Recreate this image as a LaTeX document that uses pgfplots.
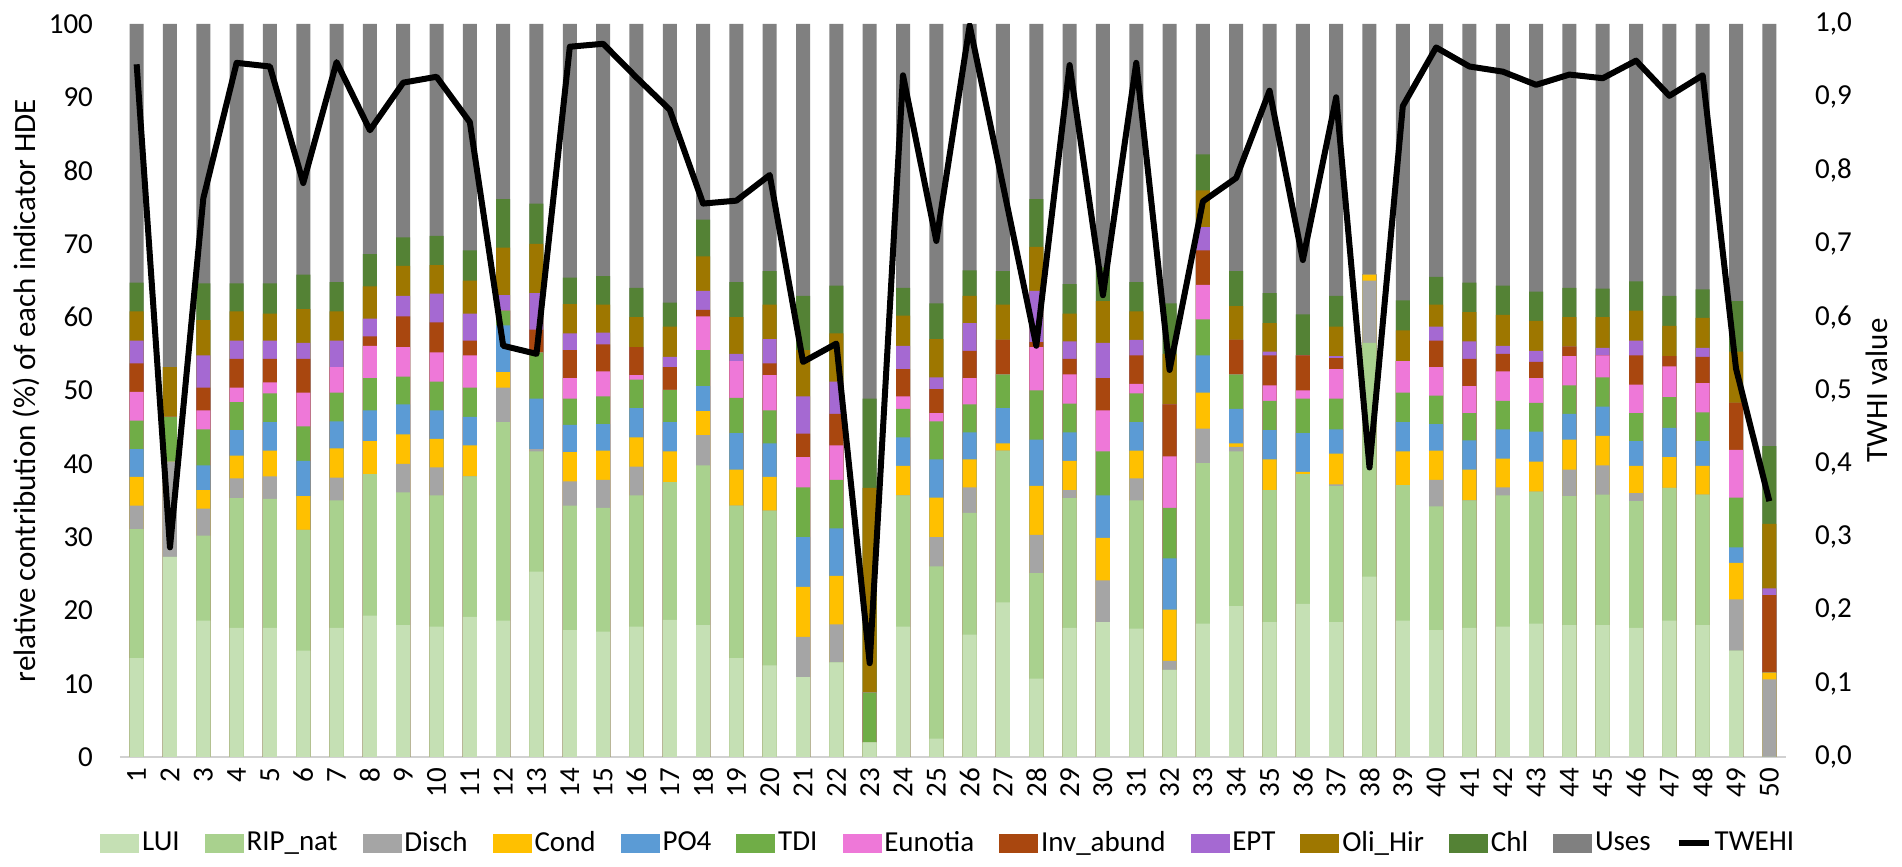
\documentclass[border=0pt]{standalone}
\usepackage{pgfplots}
\usepackage{pgfplotstable}
\pgfplotsset{compat=1.18}
\usepackage{fontspec}
\setmainfont{Carlito}
\definecolor{luiC}{HTML}{C5E0B4}
\definecolor{ripC}{HTML}{A9D18E}
\definecolor{dischC}{HTML}{A5A5A5}
\definecolor{condC}{HTML}{FFC000}
\definecolor{po4C}{HTML}{5B9BD5}
\definecolor{tdiC}{HTML}{70AD47}
\definecolor{eunC}{HTML}{EE78D8}
\definecolor{invC}{HTML}{A9470F}
\definecolor{eptC}{HTML}{A569D2}
\definecolor{oliC}{HTML}{9E7700}
\definecolor{chlC}{HTML}{548235}
\definecolor{usesC}{HTML}{808080}
% cumulative tops of the stacked segments
\pgfplotstableread{
x lui rip disch cond po4 tdi eun inv ept oli chl uses
1 13.5 31.1 34.3 38.2 42.0 45.9 49.8 53.7 56.8 60.8 64.7 100
2 27.3 27.3 40.3 40.3 40.3 46.4 46.4 46.4 46.4 53.2 53.2 100
3 18.6 30.2 33.9 36.4 39.8 44.7 47.3 50.4 54.8 59.6 64.6 100
4 17.6 35.3 38.0 41.1 44.6 48.4 50.4 54.3 56.8 60.8 64.6 100
5 17.6 35.2 38.3 41.8 45.7 49.6 51.1 54.3 56.8 60.5 64.6 100
6 14.5 31.0 31.0 35.6 40.4 45.1 49.7 54.3 56.5 61.1 65.8 100
7 17.6 35.0 38.1 42.1 45.8 49.7 53.2 53.2 56.8 60.8 64.8 100
8 19.3 38.6 38.6 43.1 47.3 51.7 56.1 57.4 59.8 64.2 68.6 100
9 18.0 36.1 40.0 44.0 48.1 51.9 55.9 60.1 62.9 67.0 70.9 100
10 17.8 35.7 39.5 43.4 47.3 51.2 55.2 59.3 63.2 67.1 71.1 100
11 19.1 38.3 38.3 42.5 46.4 50.4 54.8 56.8 60.5 65.0 69.1 100
12 18.6 45.7 50.4 52.5 58.9 60.9 60.9 60.9 63.0 69.5 76.1 100
13 25.3 41.7 42.0 42.0 48.9 55.2 55.2 58.3 63.3 70.0 75.5 100
14 17.3 34.3 37.6 41.6 45.3 48.9 51.7 55.5 57.8 61.8 65.4 100
15 17.1 34.0 37.8 41.8 45.4 49.2 52.6 56.3 57.9 61.7 65.6 100
16 17.8 35.7 39.6 43.6 47.6 51.5 52.1 55.9 55.9 60.0 64.0 100
17 18.7 37.5 37.5 41.7 45.7 50.1 50.1 53.2 54.6 58.7 62.0 100
18 18.0 39.8 43.9 47.2 50.6 55.5 60.1 61.0 63.6 68.3 73.3 100
19 13.5 34.3 34.3 39.2 44.2 49.0 54.0 54.0 55.0 60.0 64.8 100
20 12.5 33.6 33.6 38.2 42.8 47.3 52.1 53.7 57.0 61.7 66.3 100
21 10.9 10.9 16.4 23.2 30.0 36.8 40.9 44.1 49.2 55.5 62.9 100
22 12.9 12.9 18.1 24.7 31.2 37.8 42.5 46.8 51.2 57.8 64.3 100
23 2.0 2.0 2.0 2.0 2.0 8.8 8.8 8.8 8.8 36.7 48.9 100
24 17.8 35.7 35.7 39.7 43.6 47.5 49.2 52.9 56.1 60.2 64.0 100
25 2.5 26.0 30.0 35.4 40.6 45.8 46.9 50.2 51.8 57.0 61.9 100
26 16.7 33.3 36.8 40.6 44.3 48.1 51.7 55.4 59.2 62.9 66.4 100
27 21.1 41.8 41.8 42.8 47.6 52.2 52.2 56.9 56.9 61.7 66.3 100
28 10.7 25.1 30.3 37.0 43.3 50.0 55.9 56.6 63.6 69.6 76.1 100
29 17.6 35.3 36.4 40.4 44.3 48.2 52.2 54.3 56.7 60.5 64.5 100
30 18.4 18.4 24.1 29.9 35.7 41.7 47.3 51.7 56.5 62.2 66.8 100
31 17.5 35.0 38.0 41.8 45.7 49.6 50.9 54.8 56.9 60.8 64.8 100
32 11.9 11.9 13.1 20.1 27.1 34.0 41.0 48.1 48.1 55.0 61.9 100
33 18.2 40.1 44.8 49.7 54.8 59.7 64.4 69.1 72.3 77.3 82.2 100
34 20.6 41.7 42.3 42.8 47.5 52.2 52.2 56.9 56.9 61.5 66.3 100
35 18.4 36.4 36.4 40.6 44.6 48.6 50.7 54.8 55.3 59.2 63.3 100
36 20.9 38.6 38.6 38.9 44.2 48.9 50.0 54.8 54.8 54.8 60.4 100
37 18.4 37.0 37.2 41.4 44.7 48.9 52.9 54.4 54.7 58.7 62.9 100
38 24.6 56.5 65.0 65.8 65.8 65.8 65.8 65.8 65.8 65.8 65.8 100
39 18.6 37.1 37.1 41.7 45.7 49.7 54.0 54.0 54.0 58.2 62.3 100
40 17.3 34.2 37.8 41.8 45.4 49.3 53.2 56.8 58.7 61.7 65.5 100
41 17.6 35.0 35.0 39.2 43.2 46.9 50.6 54.3 56.7 60.7 64.7 100
42 17.8 35.7 36.8 40.7 44.7 48.6 52.6 55.0 56.1 60.3 64.3 100
43 18.2 36.2 36.2 40.3 44.4 48.3 51.7 53.9 55.4 59.5 63.5 100
44 18.0 35.6 39.2 43.3 46.8 50.7 54.7 56.0 56.0 60.0 64.0 100
45 18.0 35.8 39.8 43.8 47.8 51.8 54.8 54.8 55.8 60.0 63.9 100
46 17.6 34.9 36.0 39.7 43.1 46.9 50.8 54.8 56.8 60.9 64.9 100
47 18.6 36.7 36.7 40.9 44.9 49.1 53.3 54.7 54.7 58.8 62.9 100
48 18.0 35.8 35.8 39.7 43.1 47.0 51.0 54.6 55.8 59.9 63.8 100
49 14.5 14.5 21.5 26.5 28.6 35.4 41.9 48.3 48.3 55.3 62.2 100
50 0.0 0.0 10.6 11.5 11.5 11.5 11.5 22.1 23.0 31.8 42.4 100
}\datatab
\pgfplotstableread{
x twhi
1 0.945
2 0.286
3 0.762
4 0.947
5 0.942
6 0.783
7 0.948
8 0.855
9 0.920
10 0.928
11 0.866
12 0.561
13 0.550
14 0.969
15 0.973
16 0.927
17 0.883
18 0.755
19 0.759
20 0.794
21 0.539
22 0.564
23 0.128
24 0.930
25 0.704
26 0.998
27 0.780
28 0.561
29 0.944
30 0.630
31 0.947
32 0.528
33 0.758
34 0.790
35 0.909
36 0.678
37 0.900
38 0.395
39 0.888
40 0.968
41 0.942
42 0.935
43 0.917
44 0.931
45 0.926
46 0.950
47 0.902
48 0.930
49 0.530
50 0.349
}\twtab
\newcommand{\tickfont}{\fontsize{14.5}{16}\selectfont}
\newcommand{\titlefont}{\fontsize{15.5}{17}\selectfont}
\pgfplotsset{
  seg/.style={ybar, bar width=7pt, bar shift=0pt, draw=none, fill=#1, forget plot},
}
\newcommand{\boxkey}[1]{\addlegendimage{legend image code/.code={\fill[#1] (0pt,-4.5pt) rectangle (19pt,4.5pt);}}}
\begin{document}
\begin{tikzpicture}
\useasboundingbox (-60pt,-55pt) rectangle (891pt,378.5pt);
\begin{axis}[
  at={(0pt,0pt)}, anchor=south west,
  scale only axis, width=833pt, height=366.5pt,
  xmin=0.5, xmax=50.5, ymin=0, ymax=100,
  xtick={1,...,50}, ytick={0,10,...,100},
  axis lines*=left,
  y axis line style={draw=none},
  x axis line style={draw=black!18, line width=1pt},
  tick style={draw=none}, major tick length=0pt,
  /pgf/number format/assume math mode=true,
  tick label style={font=\tickfont},
  xticklabel style={yshift=-2pt, rotate=90, anchor=east},
  yticklabel style={xshift=-10pt},
  ylabel={relative contribution (\%) of each indicator HDE},
  ylabel style={font=\titlefont, at={(axis description cs:-0.0564,0.5)}, anchor=center},
  legend columns=13,
  legend style={at={(axis description cs:0.4975,-0.1173)}, anchor=center,
    draw=none, fill=none, font=\tickfont, nodes={inner sep=1.5pt},
    /tikz/every even column/.append style={column sep=11pt}},
]
\addplot[seg=usesC] table[x=x,y=uses]{\datatab};
\addplot[seg=chlC] table[x=x,y=chl]{\datatab};
\addplot[seg=oliC] table[x=x,y=oli]{\datatab};
\addplot[seg=eptC] table[x=x,y=ept]{\datatab};
\addplot[seg=invC] table[x=x,y=inv]{\datatab};
\addplot[seg=eunC] table[x=x,y=eun]{\datatab};
\addplot[seg=tdiC] table[x=x,y=tdi]{\datatab};
\addplot[seg=po4C] table[x=x,y=po4]{\datatab};
\addplot[seg=condC] table[x=x,y=cond]{\datatab};
\addplot[seg=dischC] table[x=x,y=disch]{\datatab};
\addplot[seg=ripC] table[x=x,y=rip]{\datatab};
\addplot[seg=luiC] table[x=x,y=lui]{\datatab};
\boxkey{luiC}\addlegendentry{LUI}
\boxkey{ripC}\addlegendentry{RIP\_nat}
\boxkey{dischC}\addlegendentry{Disch}
\boxkey{condC}\addlegendentry{Cond}
\boxkey{po4C}\addlegendentry{PO4}
\boxkey{tdiC}\addlegendentry{TDI}
\boxkey{eunC}\addlegendentry{Eunotia}
\boxkey{invC}\addlegendentry{Inv\_abund}
\boxkey{eptC}\addlegendentry{EPT}
\boxkey{oliC}\addlegendentry{Oli\_Hir}
\boxkey{chlC}\addlegendentry{Chl}
\boxkey{usesC}\addlegendentry{Uses}
\addlegendimage{legend image code/.code={\draw[black,line width=3pt] (0pt,0pt) -- (15pt,0pt);}}
\addlegendentry{TWEHI}
\end{axis}
\begin{axis}[
  at={(0pt,0pt)}, anchor=south west,
  scale only axis, width=833pt, height=366.5pt,
  xmin=0.5, xmax=50.5, ymin=0, ymax=1,
  axis x line=none, axis y line*=right,
  y axis line style={draw=none},
  tick style={draw=none}, major tick length=0pt,
  ytick={0,0.1,0.2,0.3,0.4,0.5,0.6,0.7,0.8,0.9,1},
  /pgf/number format/assume math mode=true,
  yticklabel style={font=\tickfont, xshift=11pt,
    /pgf/number format/.cd, fixed, fixed zerofill, precision=1, use comma},
  ylabel={TWHI value},
  ylabel style={font=\titlefont, at={(axis description cs:1.0546,0.5)}, anchor=center},
]
\addplot[black, line width=3pt, line join=round, mark=none] table[x=x,y=twhi]{\twtab};
\end{axis}
\end{tikzpicture}
\end{document}
